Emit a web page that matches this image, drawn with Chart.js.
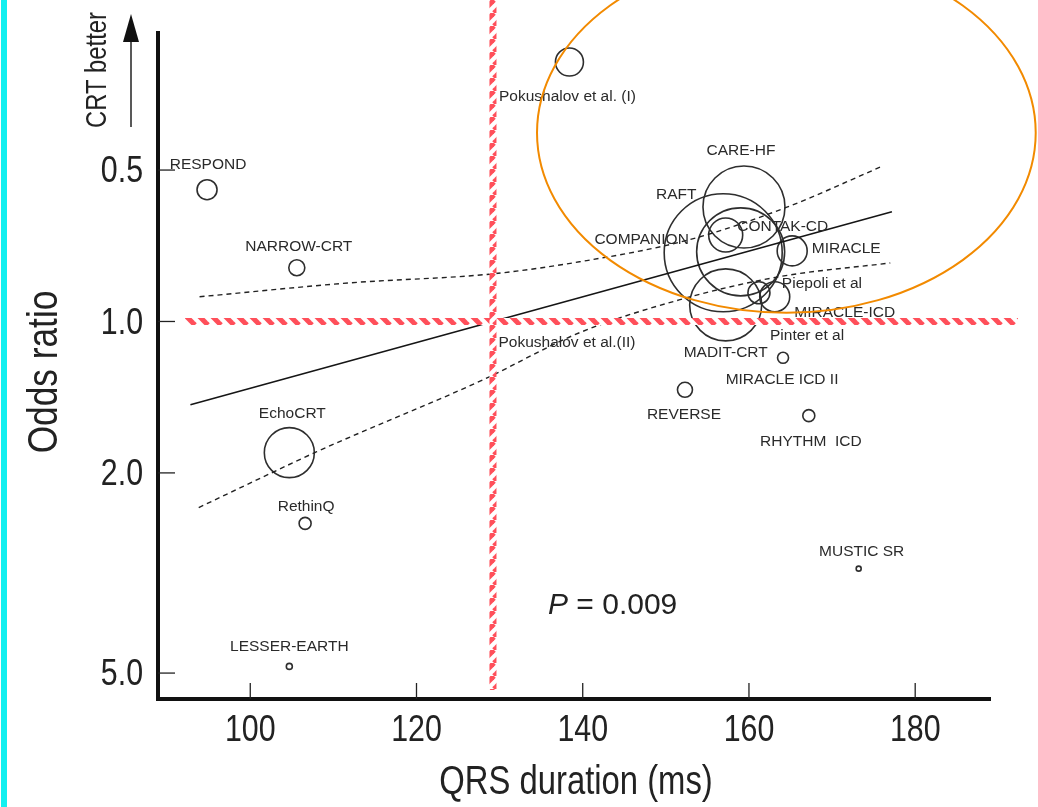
<!DOCTYPE html>
<html>
<head>
<meta charset="utf-8">
<title>QRS duration and CRT benefit</title>
<script src="https://cdn.jsdelivr.net/npm/chart.js@4.4.1/dist/chart.umd.min.js"></script>
<style>
  html, body { margin: 0; padding: 0; background: #fff; }
  #wrap { width: 1038px; height: 807px; position: relative; }
</style>
</head>
<body>
<div id="wrap"><canvas id="chart"></canvas></div>
<script>
// studies: mean QRS duration (ms), odds ratio, bubble radius (weight)
const studyNames = ['RESPOND', 'NARROW-CRT', 'Pokushalov et al. (I)', 'CARE-HF', 'RAFT', 'COMPANION',
  'CONTAK-CD', 'MIRACLE', 'Piepoli et al', 'MIRACLE-ICD', 'MADIT-CRT', 'Pinter et al', 'MIRACLE ICD II',
  'Pokushalov et al.(II)', 'REVERSE', 'RHYTHM  ICD', 'EchoCRT', 'RethinQ', 'LESSER-EARTH', 'MUSTIC SR'];
const qrsValues = [94.8, 105.6, 138.4, 159.4, 156.9, 159.0, 157.2, 165.2, 161.2, 163.1, 157.2, 164.1, 164.1,
  129.2, 152.3, 167.2, 104.7, 106.6, 104.7, 173.2];
const oddsRatios = [0.547, 0.782, 0.305, 0.592, 0.730, 0.727, 0.673, 0.724, 0.877, 0.893, 0.927, 1.181, 1.181,
  1.0, 1.367, 1.539, 1.823, 2.52, 4.85, 3.10];
const bubbleRadius = [10, 8, 14, 41, 59, 44, 17, 15, 11, 15, 36, 0, 5.5, 0, 7.5, 6, 25, 6, 3, 2.5];

// meta-regression line and its confidence band
const fitX = [92.8, 177.2];
const fitY = [1.464, 0.605];
const upperX = [93.9, 112.0, 129.2, 139.6, 152.8, 164.4, 176.2];
const upperY = [0.893, 0.838, 0.804, 0.761, 0.688, 0.594, 0.490];
const lowerX = [93.8, 101.6, 108.0, 128.0, 139.6, 151.6, 163.6, 177.0];
const lowerY = [2.344, 2.035, 1.815, 1.306, 1.053, 0.906, 0.815, 0.765];

const xTicks = [100, 120, 140, 160, 180];
const xTickLabels = ['100', '120', '140', '160', '180'];
const yTicks = [0.5, 1, 2, 5];
const yTickLabels = ['0.5', '1.0', '2.0', '5.0'];
const xTitle = 'QRS duration (ms)';
const yTitle = 'Odds ratio';
const arrowText = 'CRT better';

// reference lines (QRS 130 ms, OR 1.0) and the highlighted region
const refQrs = 129.2;
const refOdds = 1.0;
const highlightX = [134.5, 194.5];
const highlightY = [0.185, 0.961];

// label offsets from bubble centre, px
const labelOffsets = [[1, -25], [2, -21], [-2, 35], [-3, -56], [-47, -58], [-99, -12], [57, -8], [54, -2],
  [63, -9], [70, 16], [0, 48], [24, -22], [-1, 22], [74, 21], [-1, 25], [2, 26], [3, -39], [1, -17], [0, -20], [3, -17]];

const SANS = "'Liberation Sans', Arial, sans-serif";
const INK = '#222';

// Helvetica Condensed look: squeeze Liberation Sans horizontally
function narrowText(ctx, text, x, y, size, align, rotated) {
  ctx.save();
  ctx.translate(x, y);
  if (rotated) ctx.rotate(-Math.PI / 2);
  ctx.scale(0.82, 1);
  ctx.font = size + 'px ' + SANS;
  ctx.fillStyle = INK;
  ctx.textAlign = align;
  ctx.textBaseline = 'middle';
  ctx.fillText(text, 0, 0);
  ctx.restore();
}

function stripePattern(ctx, dir) {
  const p = 13;
  const c = document.createElement('canvas');
  c.width = p; c.height = p;
  const g = c.getContext('2d');
  g.fillStyle = '#fff';
  g.fillRect(0, 0, p, p);
  g.strokeStyle = '#ff4f5a';
  g.lineWidth = 5;
  for (let k = -1; k <= 1; k++) {
    g.beginPath();
    if (dir > 0) { g.moveTo(k * p, 0); g.lineTo(k * p + p, p); }
    else { g.moveTo(k * p, p); g.lineTo(k * p + p, 0); }
    g.stroke();
  }
  return ctx.createPattern(c, 'repeat');
}

const overlay = {
  id: 'overlay',
  beforeDraw(chart) {
    const ctx = chart.ctx;
    ctx.save();
    ctx.fillStyle = '#12f0f0';
    ctx.fillRect(1, 0, 6, chart.height);
    ctx.restore();
  },
  afterDatasetsDraw(chart) {
    const ctx = chart.ctx;
    const xs = chart.scales.x, ys = chart.scales.y;
    const area = chart.chartArea;
    ctx.save();

    // inward tick marks + labels
    ctx.strokeStyle = INK;
    ctx.lineWidth = 1.3;
    xTicks.forEach((v, i) => {
      const px = xs.getPixelForValue(v);
      ctx.beginPath(); ctx.moveTo(px, area.bottom); ctx.lineTo(px, area.bottom - 16); ctx.stroke();
      narrowText(ctx, xTickLabels[i], px, area.bottom + 32, 37, 'center');
    });
    yTicks.forEach((v, i) => {
      const py = ys.getPixelForValue(v);
      ctx.beginPath(); ctx.moveTo(area.left, py); ctx.lineTo(area.left + 17, py); ctx.stroke();
      narrowText(ctx, yTickLabels[i], area.left - 15, py + 2, 37, 'right');
    });
    narrowText(ctx, xTitle, (area.left + area.right) / 2 + 2, 783, 40, 'center');
    narrowText(ctx, yTitle, 45, (area.top + area.bottom) / 2 + 6, 43, 'center', true);

    // study labels
    const meta = chart.getDatasetMeta(3);
    ctx.fillStyle = '#2a2a2a';
    ctx.font = '15.5px ' + SANS;
    ctx.textAlign = 'center';
    ctx.textBaseline = 'middle';
    meta.data.forEach((pt, i) => {
      const off = labelOffsets[i];
      ctx.fillText(studyNames[i], pt.x + off[0], pt.y + off[1]);
    });

    // P value
    ctx.fillStyle = INK;
    ctx.textAlign = 'left';
    ctx.font = 'italic 30px ' + SANS;
    ctx.fillText('P', 548, 606);
    const pw = ctx.measureText('P').width;
    ctx.font = '30px ' + SANS;
    ctx.fillText(' = 0.009', 548 + pw, 606);

    // red/white striped reference lines
    const rx = xs.getPixelForValue(refQrs);
    const ry = ys.getPixelForValue(refOdds);
    ctx.lineWidth = 7;
    ctx.strokeStyle = stripePattern(ctx, 1);
    ctx.beginPath(); ctx.moveTo(185, ry); ctx.lineTo(1018, ry); ctx.stroke();
    ctx.strokeStyle = stripePattern(ctx, -1);
    ctx.beginPath(); ctx.moveTo(rx, 0); ctx.lineTo(rx, 690); ctx.stroke();

    // highlighted region
    const x1 = xs.getPixelForValue(highlightX[0]), x2 = xs.getPixelForValue(highlightX[1]);
    const y1 = ys.getPixelForValue(highlightY[0]), y2 = ys.getPixelForValue(highlightY[1]);
    ctx.strokeStyle = '#f28a00';
    ctx.lineWidth = 2;
    ctx.beginPath();
    ctx.ellipse((x1 + x2) / 2, (y1 + y2) / 2, Math.abs(x2 - x1) / 2, Math.abs(y2 - y1) / 2, 0, 0, Math.PI * 2);
    ctx.stroke();
    ctx.restore();
  },
  afterDraw(chart) {
    const ctx = chart.ctx;
    narrowText(ctx, arrowText, 98, 70, 29, 'center', true);

    ctx.save();
    ctx.strokeStyle = INK;
    ctx.fillStyle = '#111';
    ctx.lineWidth = 1.5;
    ctx.beginPath(); ctx.moveTo(131, 127); ctx.lineTo(131, 40); ctx.stroke();
    ctx.beginPath(); ctx.moveTo(131, 14); ctx.lineTo(123, 42); ctx.lineTo(139, 42); ctx.closePath(); ctx.fill();
    ctx.restore();
  }
};

const toPoints = (xsArr, ysArr) => xsArr.map((x, i) => ({ x: x, y: ysArr[i] }));

new Chart(document.getElementById('chart'), {
  type: 'bubble',
  data: {
    datasets: [
      {
        type: 'line', data: toPoints(fitX, fitY), borderColor: '#151515', borderWidth: 1.6,
        pointRadius: 0, fill: false
      },
      {
        type: 'line', data: toPoints(upperX, upperY), borderColor: '#222', borderWidth: 1.4,
        borderDash: [5, 4], pointRadius: 0, fill: false, cubicInterpolationMode: 'monotone'
      },
      {
        type: 'line', data: toPoints(lowerX, lowerY), borderColor: '#222', borderWidth: 1.4,
        borderDash: [5, 4], pointRadius: 0, fill: false, cubicInterpolationMode: 'monotone'
      },
      {
        data: studyNames.map((n, i) => ({ x: qrsValues[i], y: oddsRatios[i], r: bubbleRadius[i] })),
        backgroundColor: 'rgba(0,0,0,0)', borderColor: '#2e2e2e', borderWidth: 1.6,
        hoverBorderWidth: 1.6
      }
    ]
  },
  options: {
    responsive: true,
    maintainAspectRatio: false,
    animation: false,
    events: [],
    layout: { autoPadding: false, padding: { top: 33, right: 48, left: 0, bottom: 0 } },
    plugins: { legend: { display: false }, tooltip: { enabled: false } },
    scales: {
      x: {
        type: 'linear', min: 88.9, max: 189,
        grid: { display: false },
        border: { display: true, width: 4, color: '#111' },
        afterBuildTicks: s => { s.ticks = xTicks.map(v => ({ value: v })); },
        afterFit: s => { s.height = 108; },
        ticks: { display: false }
      },
      y: {
        type: 'logarithmic', reverse: true, min: 0.267, max: 5.63,
        grid: { display: false },
        border: { display: true, width: 4, color: '#111' },
        afterBuildTicks: s => { s.ticks = yTicks.map(v => ({ value: v })); },
        afterFit: s => { s.width = 158; },
        ticks: { display: false }
      }
    }
  },
  plugins: [overlay]
});
</script>
</body>
</html>
